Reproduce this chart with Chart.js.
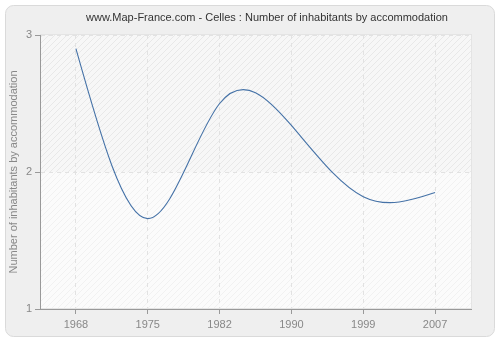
<!DOCTYPE html>
<html>
<head>
<meta charset="utf-8">
<script src="https://cdn.jsdelivr.net/npm/chart.js@4"></script>
<style>
  html, body { margin: 0; padding: 0; background: #fff; }
  #wrap { width: 500px; height: 340px; position: relative; }
</style>
</head>
<body>
<div id="wrap"><canvas id="chart" width="500" height="340"></canvas></div>
<script>
const years = ['1968', '1975', '1982', '1990', '1999', '2007'];
const inhabitants = [2.9, 1.66, 2.5, 2.34, 1.82, 1.85];
const yTicks = [1, 2, 3];
const chartTitle = 'www.Map-France.com - Celles : Number of inhabitants by accommodation';
const yTitle = 'Number of inhabitants by accommodation';
const FONT = '"Liberation Sans", Arial, sans-serif';

function hatch(bg, line) {
  const c = document.createElement('canvas');
  c.width = 6; c.height = 6;
  const g = c.getContext('2d');
  g.fillStyle = bg; g.fillRect(0, 0, 6, 6);
  g.strokeStyle = line; g.lineWidth = 1;
  g.beginPath();
  g.moveTo(-1, 7); g.lineTo(7, -1);
  g.moveTo(-1, 1); g.lineTo(1, -1);
  g.moveTo(5, 7); g.lineTo(7, 5);
  g.stroke();
  return g.createPattern(c, 'repeat');
}

// frame, plot background and title
const backdrop = {
  id: 'backdrop',
  beforeDraw(chart) {
    const ctx = chart.ctx, a = chart.chartArea, y = chart.scales.y;
    ctx.save();
    ctx.fillStyle = '#efefef';
    ctx.strokeStyle = '#dadada';
    ctx.lineWidth = 1;
    ctx.beginPath();
    ctx.roundRect(5.5, 5.5, 489, 331, 8);
    ctx.fill(); ctx.stroke();

    const mid = y.getPixelForValue(2);
    ctx.fillStyle = hatch('#f7f7f7', '#e8e8e8');
    ctx.fillRect(a.left, a.top, a.right - a.left, mid - a.top);
    ctx.fillStyle = hatch('#fbfbfb', '#f1f1f1');
    ctx.fillRect(a.left, mid, a.right - a.left, a.bottom - mid);
    ctx.strokeStyle = '#e4e4e4';
    ctx.strokeRect(a.left + 0.5, a.top - 0.5, a.right - a.left, a.bottom - a.top);

    ctx.fillStyle = '#333';
    ctx.font = '11px ' + FONT;
    ctx.textAlign = 'center';
    ctx.textBaseline = 'middle';
    ctx.fillText(chartTitle, 267, 18);
    ctx.restore();
  }
};

// natural cubic spline through the points the line controller placed
const naturalSpline = {
  id: 'naturalSpline',
  beforeDatasetDraw(chart, args) {
    const pts = args.meta.data, n = pts.length;
    if (n < 3) return;
    const h = [], M = new Array(n).fill(0);
    for (let i = 0; i < n - 1; i++) h.push(pts[i + 1].x - pts[i].x);
    const a = [], b = [], c = [], d = [];
    for (let i = 1; i < n - 1; i++) {
      a.push(h[i - 1]); b.push(2 * (h[i - 1] + h[i])); c.push(h[i]);
      d.push(6 * ((pts[i + 1].y - pts[i].y) / h[i] - (pts[i].y - pts[i - 1].y) / h[i - 1]));
    }
    const m = b.length;
    for (let i = 1; i < m; i++) {
      const w = a[i] / b[i - 1];
      b[i] -= w * c[i - 1]; d[i] -= w * d[i - 1];
    }
    M[m] = d[m - 1] / b[m - 1];
    for (let i = m - 2; i >= 0; i--) M[i + 1] = (d[i] - c[i] * M[i + 2]) / b[i];

    const slope = i => i < n - 1
      ? (pts[i + 1].y - pts[i].y) / h[i] - h[i] * (2 * M[i] + M[i + 1]) / 6
      : (pts[i].y - pts[i - 1].y) / h[i - 1] + h[i - 1] * (M[i - 1] + 2 * M[i]) / 6;

    for (let i = 0; i < n; i++) {
      const s = slope(i), p = pts[i];
      const hl = i > 0 ? h[i - 1] : 0, hr = i < n - 1 ? h[i] : 0;
      p.cp1x = p.x - hl / 3; p.cp1y = p.y - s * hl / 3;
      p.cp2x = p.x + hr / 3; p.cp2y = p.y + s * hr / 3;
    }
    args.meta.dataset._pointsUpdated = true;
  }
};

new Chart(document.getElementById('chart'), {
  type: 'line',
  data: {
    labels: years,
    datasets: [{
      data: inhabitants,
      borderColor: '#4572a7',
      borderWidth: 1.1,
      pointRadius: 0,
      tension: 0.4,
      fill: false
    }]
  },
  options: {
    responsive: false,
    animation: false,
    layout: { padding: { left: 0, right: 29, top: 35, bottom: 0 } },
    plugins: { legend: { display: false }, title: { display: false }, tooltip: { enabled: false } },
    scales: {
      x: {
        type: 'category',
        offset: true,
        afterFit: s => { s.height = 31; },
        grid: { offset: false, color: '#e2e2e2', tickColor: '#999', tickLength: 5 },
        border: { color: '#999', dash: [4, 4] },
        ticks: { color: '#888', font: { family: FONT, size: 11 }, padding: 4, maxRotation: 0 }
      },
      y: {
        min: 1, max: 3,
        afterFit: s => { s.width = 40; },
        afterBuildTicks: s => { s.ticks = yTicks.map(v => ({ value: v })); },
        grid: { color: '#e2e2e2', tickColor: '#999', tickLength: 5 },
        border: { color: '#999', dash: [4, 4] },
        ticks: { color: '#888', font: { family: FONT, size: 11 }, padding: 3 },
        title: { display: true, text: yTitle, color: '#888', font: { family: FONT, size: 11 }, padding: { top: 7, bottom: 0 } }
      }
    }
  },
  plugins: [backdrop, naturalSpline]
});
</script>
</body>
</html>
